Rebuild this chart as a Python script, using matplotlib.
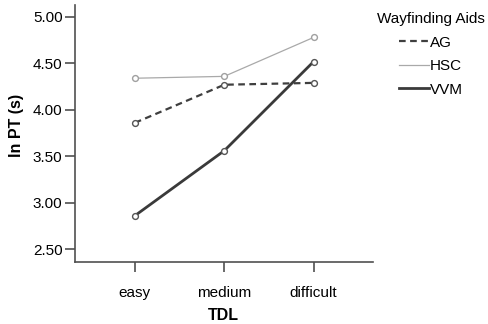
import matplotlib
matplotlib.use("Agg")
import matplotlib.pyplot as plt
from matplotlib.lines import Line2D

plt.rcParams['font.family'] = ['Liberation Sans', 'DejaVu Sans']

levels = ['easy', 'medium', 'difficult']
ag = [3.86, 4.27, 4.29]
hsc = [4.34, 4.36, 4.78]
vvm = [2.86, 3.56, 4.52]
yticks = [2.50, 3.00, 3.50, 4.00, 4.50, 5.00]

styles = {
    'AG': dict(color='#3f3f3f', lw=1.6, ls=(0, (3, 2))),
    'HSC': dict(color='#a9a9a9', lw=0.9, ls='-'),
    'VVM': dict(color='#3a3a3a', lw=2.0, ls='-'),
}
edge = {'AG': '#555555', 'HSC': '#a0a0a0', 'VVM': '#555555'}

fig = plt.figure(figsize=(4.88, 3.24), dpi=100)
ax = fig.add_axes([0.1537, 0.191, 0.610, 0.794])

x = range(len(levels))
for name, vals in [('AG', ag), ('HSC', hsc), ('VVM', vvm)]:
    ax.plot(x, vals, marker='o', ms=4.2, mfc='white', mec=edge[name],
            mew=1.0, **styles[name])

ax.set_xlim(-0.67, 2.66)
ax.set_ylim(2.36, 5.13)
ax.set_xticks(list(x))
ax.set_xticklabels(levels)
ax.set_yticks(yticks)
ax.set_yticklabels([f'{v:.2f}' for v in yticks])

for s in ['top', 'right']:
    ax.spines[s].set_visible(False)
for s in ['left', 'bottom']:
    ax.spines[s].set_color('#505050')
    ax.spines[s].set_linewidth(1.2)
ax.tick_params(axis='both', colors='#505050', labelcolor='black', length=7,
               width=1.2, labelsize=11)
ax.tick_params(axis='x', pad=10)
ax.tick_params(axis='y', pad=2)

ax.set_xlabel('TDL', fontsize=11.5, fontweight='bold', labelpad=6)
ax.set_ylabel('ln PT (s)', fontsize=11.5, fontweight='bold')
ax.yaxis.set_label_coords(-0.17, 0.53)

# legend shows only the line styles, no markers
handles = [Line2D([], [], **styles[n]) for n in styles]
ax.legend(handles, list(styles), loc='upper left', bbox_to_anchor=(0.747, 1.0),
          bbox_transform=fig.transFigure, frameon=False,
          title='Wayfinding Aids', fontsize=11, title_fontsize=11,
          handlelength=2.0, handletextpad=0.0, labelspacing=0.62,
          borderpad=0.3)

fig.savefig('out.png', dpi=100)
